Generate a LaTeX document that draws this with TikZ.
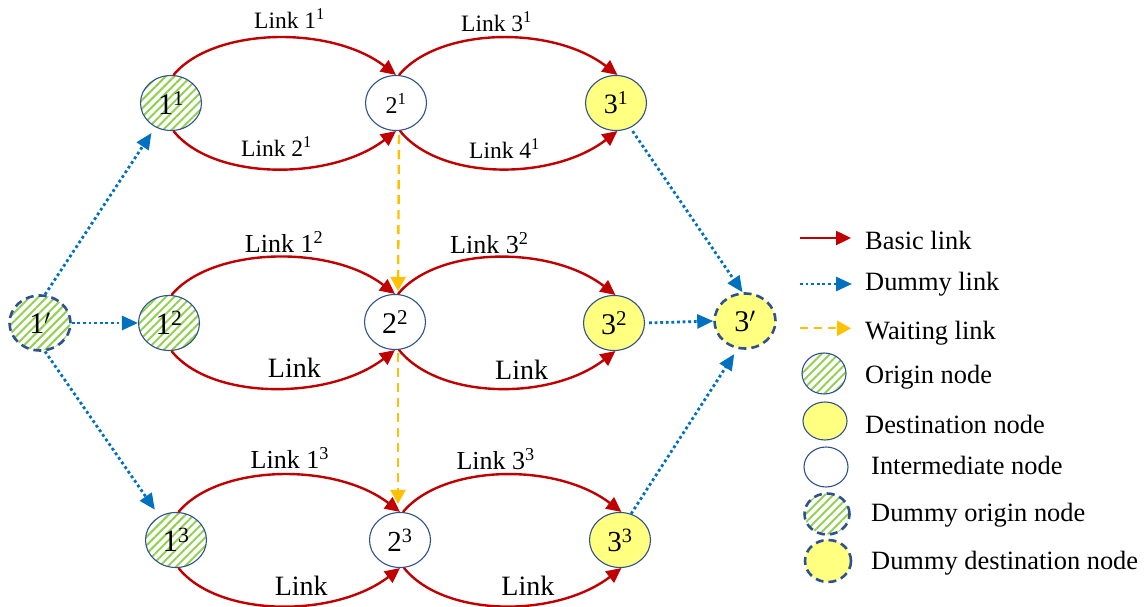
\documentclass[tikz,border=0pt]{standalone}
\usepackage{fontspec}
\setmainfont{Liberation Serif}
\usetikzlibrary{shapes.geometric,arrows.meta,patterns.meta}
\definecolor{linkred}{HTML}{C00000}
\definecolor{dumblue}{HTML}{0070C0}
\definecolor{waitor}{HTML}{FFC000}
\definecolor{edgeblue}{HTML}{2F528F}
\definecolor{hatchgreen}{HTML}{92D050}
\definecolor{destyellow}{HTML}{FFFF80}
\begin{document}
\begin{tikzpicture}[x=1pt,y=1pt,
  nd/.style={ellipse, inner sep=0pt, minimum width=61pt, minimum height=55pt, draw=edgeblue, line width=1.1pt},
  orig/.style={nd, pattern={Lines[angle=45,distance=6pt,line width=2pt]}, pattern color=hatchgreen},
  dest/.style={nd, fill=destyellow},
  inter/.style={nd, fill=white},
  dumbord/.style={line width=2.6pt, dash pattern=on 8pt off 5pt},
  dumorig/.style={orig, dumbord},
  dumdest/.style={dest, dumbord},
  fs/.style={font=\fontsize{#1}{#1}\selectfont},
  basic/.style={draw=linkred, line width=2.4pt, -{Triangle[length=15pt,width=14pt]}},
  dummy/.style={draw=dumblue, line width=2.8pt, dash pattern=on 2.8pt off 2.8pt, -{Triangle[length=16pt,width=14pt]}},
  waiting/.style={draw=waitor, line width=2.4pt, dash pattern=on 9pt off 6pt, -{Triangle[length=14pt,width=15pt]}},
  lab/.style={anchor=base west, inner sep=0pt, fs=#1},
  leg/.style={anchor=base west, inner sep=0pt, fs=26.4}
]
\useasboundingbox (0,0) rectangle (1148,607);

% main nodes
\node[dumorig, fs=30] (n1p) at (40,284) {1$'$};
\node[orig, fs=30] (n11) at (171,504) {1\textsuperscript{1}};
\node[inter, fs=24] (n21) at (396,504) {2\textsuperscript{1}};
\node[dest, fs=28] (n31) at (616,504) {3\textsuperscript{1}};
\node[orig, fs=31] (n12) at (169,284) {1\textsuperscript{2}};
\node[inter, fs=30] (n22) at (395,285) {2\textsuperscript{2}};
\node[dest, fs=30] (n32) at (614,284) {3\textsuperscript{2}};
\node[orig, fs=31] (n13) at (176,67) {1\textsuperscript{3}};
\node[inter, fs=29] (n23) at (400,67) {2\textsuperscript{3}};
\node[dest, fs=29] (n33) at (620,67) {3\textsuperscript{3}};
\node[dumdest, fs=30] (n3p) at (745,286) {3$'$};

% basic links
\foreach \a/\b in {n11/n21,n12/n22,n13/n23}{
  \draw[basic] (\a.85) .. controls +(40,48) and +(-65,50) .. (\b.90);
  \draw[basic] (\a.275) .. controls +(40,-50) and +(-65,-50) .. (\b.270);
}
\foreach \a/\b in {n21/n31,n22/n32,n23/n33}{
  \draw[basic] (\a.84) .. controls +(40,48) and +(-65,50) .. (\b.87);
  \draw[basic] (\a.278) .. controls +(40,-50) and +(-65,-50) .. (\b.273);
}

% link labels
\node[lab=23.5] (l11) at (254,578) {Link 1\textsuperscript{1}};
\node[lab=23.5] (l21) at (241,450) {Link 2\textsuperscript{1}};
\node[lab=23.5] (l31) at (461,575) {Link 3\textsuperscript{1}};
\node[lab=23.5] (l41) at (469,448.6) {Link 4\textsuperscript{1}};
\node[lab=26] (l12) at (244.7,354.8) {Link 1\textsuperscript{2}};
\node[lab=26] (l32) at (450,353.4) {Link 3\textsuperscript{2}};
\node[lab=28] (l22) at (267.7,229.5) {Link};
\node[lab=28] (l42) at (495,227.4) {Link};
\node[lab=26] (l13) at (250.5,138.4) {Link 1\textsuperscript{3}};
\node[lab=26] (l33) at (456.4,137.4) {Link 3\textsuperscript{3}};
\node[lab=28] (l23) at (274.6,11.7) {Link};
\node[lab=28] (l43) at (501.2,11) {Link};

% dummy links
\draw[dummy, shorten >=7pt] (n1p.80) -- (n11.237);
\draw[dummy] (n1p.east) -- (n12.west);
\draw[dummy, shorten >=8pt] (n1p.280) -- (n13.125);
\draw[dummy, shorten <=4pt] (n31.300) -- (n3p.95);
\draw[dummy, shorten <=4pt] (n32.east) -- (n3p.west);
\draw[dummy, shorten >=6pt] (n33.67) -- (n3p.255);

% waiting links
\draw[waiting, shorten <=4pt, shorten >=3pt] ([xshift=3pt]n21.south) -- ([xshift=3pt]n22.north);
\draw[waiting, shorten <=3pt, shorten >=8pt] ([xshift=3pt]n22.south) -- ([xshift=-2pt]n23.north);

% legend
\coordinate (lb1) at (800,369); \coordinate (lb2) at (851,369);
\coordinate (ld1) at (800,323); \coordinate (ld2) at (852,323);
\coordinate (lw1) at (800,278.7); \coordinate (lw2) at (851,278.7);
\draw[basic] (lb1) -- (lb2);
\draw[dummy] (ld1) -- (ld2);
\draw[waiting, dash pattern=on 8pt off 6pt] (lw1) -- (lw2);
\node[leg] (tb) at (865,357.7) {Basic link};
\node[leg] (td) at (865,316.3) {Dummy link};
\node[leg] (tw) at (865,267) {Waiting link};
\node[orig, minimum width=44pt, minimum height=41pt] (lo) at (824,233.5) {};
\node[dest, minimum width=44pt, minimum height=38pt] (ldn) at (825,186) {};
\node[inter, minimum width=44pt, minimum height=40pt] (li) at (826,140) {};
\node[dumorig, minimum width=45pt, minimum height=41pt] (ldo) at (827,93) {};
\node[dumdest, minimum width=46pt, minimum height=42pt] (ldd) at (828,46) {};
\node[leg] (to) at (865,223.7) {Origin node};
\node[leg] (tdn) at (865,173.7) {Destination node};
\node[leg] (ti) at (871,132) {Intermediate node};
\node[leg] (tdo) at (871,85.3) {Dummy origin node};
\node[leg] (tdd) at (871,37) {Dummy destination node};
\end{tikzpicture}
\end{document}
